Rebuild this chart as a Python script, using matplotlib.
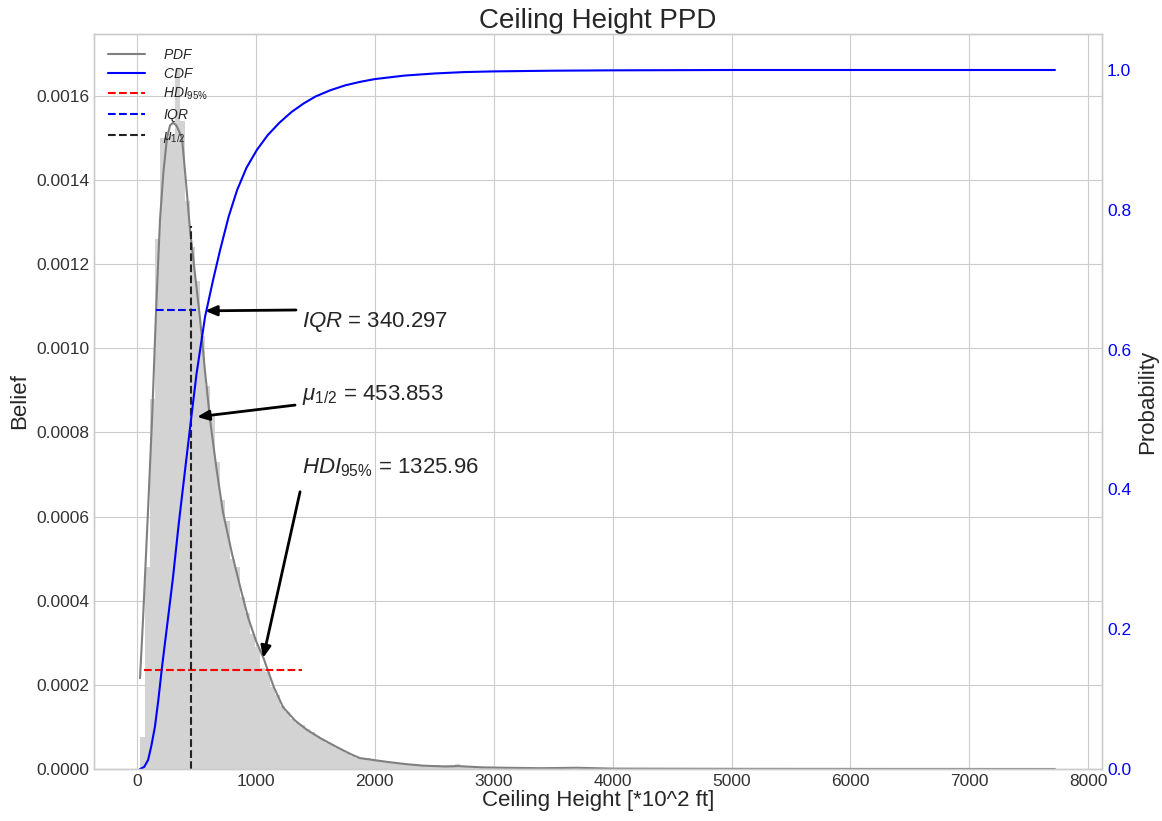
import numpy as np
import matplotlib
matplotlib.use('Agg')
import matplotlib.pyplot as plt
from matplotlib.lines import Line2D

# histogram of posterior samples (bin edges in 10^2 ft, heights are density x1e-4)
bin_w = 42
bin_start = 25
hist_heights = [0.75, 4.8, 8.8, 12.6, 15.0, 15.0, 15.1, 16.64, 15.4, 13.5,
                12.4, 11.6, 10.3, 9.1, 8.4, 7.3, 6.4, 5.9, 5.0, 4.8,
                4.1, 3.7, 3.2, 2.9, 2.4, 2.3, 1.95, 1.75, 1.5, 1.35,
                1.2, 1.1, 1.05, 0.95, 0.88, 0.78, 0.72, 0.63, 0.58, 0.5,
                0.45, 0.38, 0.32, 0.27, 0.25, 0.26, 0.24, 0.22, 0.2, 0.18,
                0.16, 0.14, 0.13, 0.11, 0.1, 0.09, 0.08, 0.07, 0.08, 0.09,
                0.08, 0.1, 0.09, 0.11, 0.06, 0.05, 0.04, 0.04, 0.03, 0.03,
                0.02, 0.03, 0.02, 0.02, 0.01, 0.02, 0.03, 0.02, 0.01, 0.02,
                0.03, 0.02, 0.01, 0.01, 0.01, 0.01, 0.0, 0.01, 0.01, 0.0]

# smoothed PDF (x1e-4)
pdf_x = [25, 50, 90, 126, 160, 193, 222, 252, 278, 303, 330, 355, 378, 410,
         446, 490, 530, 570, 614, 670, 723, 800, 870, 934, 1000, 1063, 1150,
         1228, 1330, 1430, 1550, 1682, 1800, 1875, 2000, 2103, 2250, 2405,
         2600, 2700, 2900, 3100, 3400, 3700, 4000, 5000, 6000, 7000, 7720]
pdf_y = [2.16, 3.54, 6.0, 8.3, 10.9, 13.05, 14.2, 15.0, 15.3, 15.36, 15.3,
         15.15, 15.0, 14.0, 12.8, 11.7, 10.7, 9.5, 8.3, 7.1, 6.1, 5.1, 4.3,
         3.6, 3.05, 2.64, 1.95, 1.47, 1.15, 0.93, 0.72, 0.52, 0.35, 0.26,
         0.21, 0.17, 0.12, 0.08, 0.06, 0.07, 0.04, 0.03, 0.02, 0.03, 0.01,
         0.005, 0.003, 0.002, 0.001]

# CDF
cdf_x = [25, 60, 93, 120, 150, 180, 210, 260, 303, 350, 404, 454, 500, 572,
         640, 698, 770, 841, 920, 1009, 1100, 1200, 1300, 1400, 1500, 1625,
         1750, 1875, 2000, 2250, 2500, 2750, 3000, 3500, 4000, 5000, 6000,
         7000, 7720]
cdf_y = [0.0, 0.003, 0.013, 0.033, 0.06, 0.1, 0.146, 0.215, 0.275, 0.35,
         0.428, 0.50, 0.565, 0.647, 0.70, 0.742, 0.79, 0.828, 0.86, 0.886,
         0.907, 0.925, 0.94, 0.952, 0.962, 0.971, 0.978, 0.983, 0.987, 0.992,
         0.995, 0.997, 0.998, 0.999, 0.9995, 1.0, 1.0, 1.0, 1.0]

# summary statistics
hdi_lo, hdi_hi, hdi_level = 62, 1388, 0.000235
iqr_lo, iqr_hi, iqr_level = 156, 496, 0.00109
median, median_top = 453.853, 0.00129
hdi_text = r'$HDI_{95\%}$ = 1325.96'
iqr_text = r'$IQR$ = 340.297'
med_text = r'$\mu_{1/2}$ = 453.853'

plt.style.use('seaborn-v0_8-whitegrid')
plt.rcParams['font.family'] = ['Liberation Sans', 'DejaVu Sans']
plt.rcParams['mathtext.fontset'] = 'custom'
plt.rcParams['mathtext.it'] = 'Liberation Sans:italic'
plt.rcParams['mathtext.rm'] = 'Liberation Sans'

fig = plt.figure(figsize=(11.62, 8.21), dpi=100)
ax = fig.add_axes([0.0809, 0.0633, 0.8675, 0.8953])
ax2 = ax.twinx()

edges = bin_start + bin_w * np.arange(len(hist_heights) + 1)
ax.stairs(np.array(hist_heights) * 1e-4, edges, fill=True, color='#d3d3d3')
ax.plot(pdf_x, np.array(pdf_y) * 1e-4, color='grey', lw=1.5)
ax.hlines(hdi_level, hdi_lo, hdi_hi, colors='red', linestyles='--', lw=1.5)
ax.hlines(iqr_level, iqr_lo, iqr_hi, colors='blue', linestyles='--', lw=1.5)
ax.vlines(median, 0, median_top, colors='#222222', linestyles='--', lw=1.5)
ax2.plot(cdf_x, cdf_y, color='blue', lw=1.5)

ax.set_xlim(-362, 8116)
ax.set_ylim(0, 0.001747)
ax.set_yticks(np.arange(0, 0.00161, 0.0002))
ax.yaxis.set_major_formatter(matplotlib.ticker.FormatStrFormatter('%.4f'))
ax2.set_ylim(0, 1.0515)
ax2.set_yticks(np.arange(0, 1.01, 0.2))
ax2.grid(False)
ax2.tick_params(axis='y', colors='blue', labelsize=12.5)
ax.tick_params(labelsize=12.5, colors='#333333')

ax.set_xlabel('Ceiling Height [*10^2 ft]', fontsize=16, labelpad=1)
ax.set_ylabel('Belief', fontsize=16, labelpad=4)
ax2.set_ylabel('Probability', fontsize=16, labelpad=4)
ax.set_title('Ceiling Height PPD', fontsize=20, pad=3)

arrow = dict(arrowstyle='-|>,head_length=0.7,head_width=0.3', color='black',
             lw=2, shrinkA=0, shrinkB=0)
ax.annotate('', xy=(572, 0.001089), xytext=(1337, 0.001091), arrowprops=arrow)
ax.annotate('', xy=(505, 0.000837), xytext=(1329, 0.000865), arrowprops=arrow)
ax.annotate('', xy=(1060, 0.000264), xytext=(1371, 0.000659), arrowprops=arrow)
ax.text(1388, 0.001063, iqr_text, fontsize=16, va='center', ha='left')
ax.text(1388, 0.000889, med_text, fontsize=16, va='center', ha='left')
ax.text(1388, 0.000716, hdi_text, fontsize=16, va='center', ha='left')

handles = [Line2D([], [], color='grey', lw=1.5),
           Line2D([], [], color='blue', lw=1.5),
           Line2D([], [], color='red', ls='--', lw=1.5),
           Line2D([], [], color='blue', ls='--', lw=1.5),
           Line2D([], [], color='#222222', ls='--', lw=1.5)]
labels = ['$PDF$', '$CDF$', r'$HDI_{95\%}$', '$IQR$', r'$\mu_{1/2}$']
ax2.legend(handles, labels, loc='upper left', fontsize=10, frameon=False,
           borderaxespad=0.6, handlelength=2.7, handletextpad=1.3,
           labelspacing=0.35)

fig.savefig('out.png', dpi=100)
